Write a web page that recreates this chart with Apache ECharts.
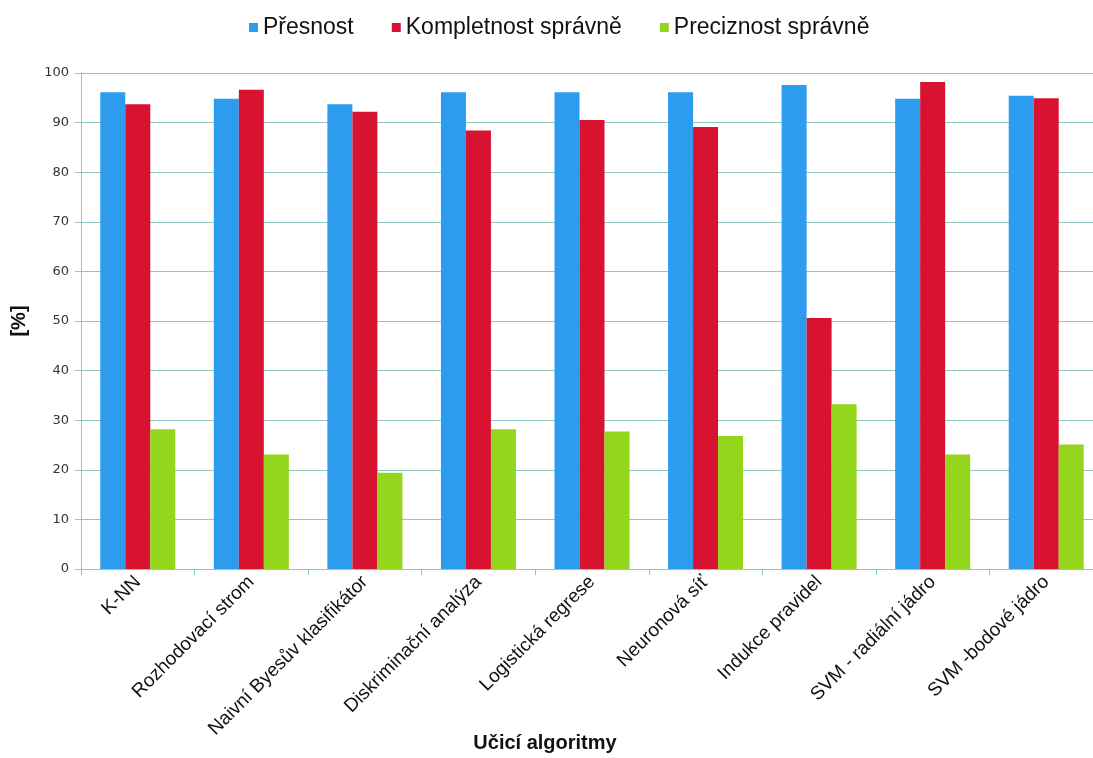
<!DOCTYPE html>
<html>
<head>
<meta charset="utf-8">
<script src="https://cdn.jsdelivr.net/npm/echarts@6/dist/echarts.min.js"></script>
<style>
  html, body { margin: 0; padding: 0; background: #fff; }
  #chart { width: 1093px; height: 758px; }
</style>
</head>
<body>
<div id="chart"></div>
<script>
// kategorie a hodnoty
const categories = ['K-NN', 'Rozhodovací strom', 'Naivní Byesův klasifikátor', 'Diskriminační analýza',
  'Logistická regrese', 'Neuronová síť', 'Indukce pravidel', 'SVM - radiální jádro', 'SVM -bodové jádro'];
const presnost = [96.1, 94.8, 93.7, 96.1, 96.1, 96.1, 97.6, 94.8, 95.4];
const kompletnost = [93.7, 96.6, 92.2, 88.4, 90.5, 89.1, 50.6, 98.2, 94.9];
const preciznost = [28.2, 23.1, 19.4, 28.2, 27.7, 26.8, 33.2, 23.1, 25.1];
const seriesNames = ['Přesnost', 'Kompletnost správně', 'Preciznost správně'];
const yTicks = [0, 10, 20, 30, 40, 50, 60, 70, 80, 90, 100];

const lineColor = '#8fc6c6';
const chart = echarts.init(document.getElementById('chart'));
const option = {
  backgroundColor: '#fff',
  color: ['#2d9cef', '#d8132f', '#93d61c'],
  legend: {
    data: seriesNames,
    top: 11,
    left: 244,
    itemWidth: 9,
    itemHeight: 9,
    itemGap: 38,
    icon: 'rect',
    textStyle: { fontFamily: 'Liberation Sans, Arial', fontSize: 23, color: '#111' }
  },
  grid: { left: 81, top: 73, width: 1022, height: 496, containLabel: false, outerBoundsMode: 'none' },
  xAxis: {
    type: 'category',
    data: categories,
    name: 'Učicí algoritmy',
    nameLocation: 'middle',
    nameGap: 164,
    nameMoveOverlap: false,
    nameTextStyle: { fontFamily: 'Liberation Sans, Arial', fontSize: 20, fontWeight: 'bold', color: '#111', padding: [0, 94, 0, 0] },
    axisLine: { lineStyle: { color: lineColor, width: 1 } },
    axisTick: { show: true, length: 6, lineStyle: { color: lineColor } },
    axisLabel: { rotate: 45, fontFamily: 'Liberation Sans, Arial', fontSize: 19, color: '#111', margin: 10 }
  },
  yAxis: {
    type: 'value',
    min: 0,
    max: 100,
    interval: 10,
    name: '[%]',
    nameLocation: 'middle',
    nameGap: 52,
    nameTextStyle: { fontFamily: 'Liberation Sans, Arial', fontSize: 20, fontWeight: 'bold', color: '#111' },
    axisLine: { show: true, lineStyle: { color: lineColor } },
    axisTick: { show: true, length: 6, lineStyle: { color: lineColor } },
    splitLine: { lineStyle: { color: lineColor } },
    axisLabel: {
      fontFamily: 'DejaVu Sans, Verdana', fontSize: 13, color: '#333', margin: 12,
      formatter: v => (yTicks.indexOf(v) >= 0 ? String(v) : '')
    }
  },
  series: [
    { name: seriesNames[0], type: 'bar', data: presnost, barWidth: 25, barGap: '0%' },
    { name: seriesNames[1], type: 'bar', data: kompletnost, barWidth: 25, barGap: '0%' },
    { name: seriesNames[2], type: 'bar', data: preciznost, barWidth: 25, barGap: '0%' }
  ]
};
chart.setOption(option);
</script>
</body>
</html>
